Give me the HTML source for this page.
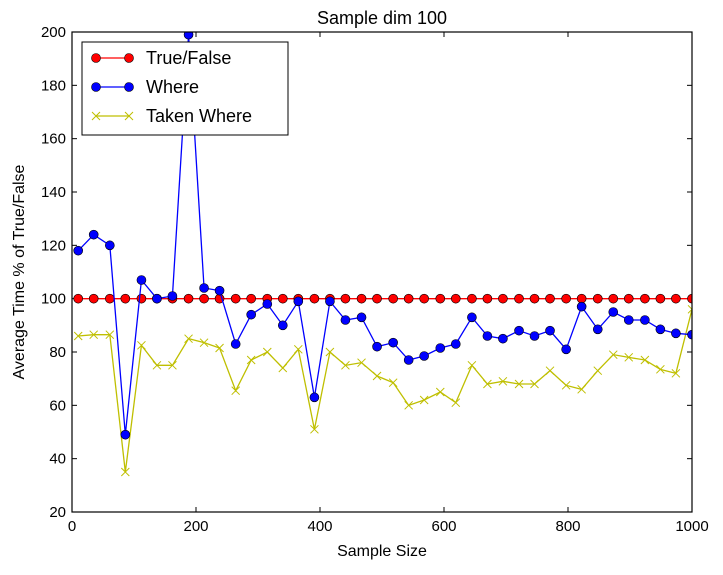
<!DOCTYPE html>
<html><head><meta charset="utf-8"><style>
body{margin:0;background:#fff;font-family:"Liberation Sans",sans-serif}
text{font-family:"Liberation Sans",sans-serif}
</style></head><body>
<svg id="chart" width="723" height="570" xmlns="http://www.w3.org/2000/svg"></svg>
<script>
const xValues=[10,35,61,86,112,137,162,188,213,238,264,289,315,340,365,391,416,441,467,492,518,543,568,594,619,645,670,695,721,746,771,797,822,848,873,898,924,949,974,1000];
const trueFalse=new Array(40).fill(100);
const whereVals=[118,124,120,49,107,100,101,199,104,103,83,94,98,90,99,63,99,92,93,82,83.5,77,78.5,81.5,83,93,86,85,88,86,88,81,97,88.5,95,92,92,88.5,87,86.5];
const takenWhere=[86,86.5,86.5,35,82.5,75,75,85,83.5,81.5,65.5,77,80,74,81,51,80,75,76,71,68.5,60,62,65,61,75,68,69,68,68,73,67.5,66,73,79,78,77,73.5,72,96];
const xTicks=[0,200,400,600,800,1000];
const yTicks=[20,40,60,80,100,120,140,160,180,200];
const L=72,R=692,T=32,B=512;
const sx=v=>L+(v-0)/1000*(R-L);
const sy=v=>B-(v-20)/180*(B-T);
const svg=document.getElementById('chart');
const NS='http://www.w3.org/2000/svg';
function mk(tag,attrs,parent){const e=document.createElementNS(NS,tag);for(const k in attrs)e.setAttribute(k,attrs[k]);(parent||svg).appendChild(e);return e;}
const clip=mk('clipPath',{id:'pc'});mk('rect',{x:L,y:T,width:R-L,height:B-T},clip);
// ticks
xTicks.forEach(v=>{
 const g=mk('g',{});
 
 
 mk('line',{x1:sx(v),x2:sx(v),y1:B,y2:B-5,stroke:'#000'},g);
 mk('line',{x1:sx(v),x2:sx(v),y1:T,y2:T+5,stroke:'#000'},g);
 const t=mk('text',{x:sx(v),y:B+19,'text-anchor':'middle','font-size':'15'},g);t.textContent=v;
});
yTicks.forEach(v=>{
 const g=mk('g',{});
 
 
 mk('line',{x1:L,x2:L+5,y1:sy(v),y2:sy(v),stroke:'#000'},g);
 mk('line',{x1:R,x2:R-5,y1:sy(v),y2:sy(v),stroke:'#000'},g);
 const t=mk('text',{x:L-6,y:sy(v)+5,'text-anchor':'end','font-size':'15'},g);t.textContent=v;
});
function series(vals,color,marker,name){
 const g=mk('g',{'clip-path':'url(#pc)'});
 
 
 mk('polyline',{points:vals.map((v,i)=>sx(xValues[i])+','+sy(v)).join(' '),fill:'none',stroke:color,'stroke-width':1.3},g);
 vals.forEach((v,i)=>{
  const x=sx(xValues[i]),y=sy(v);
  if(marker==='o'){const c=mk('circle',{cx:x,cy:y,r:4.5,fill:color,stroke:'#000','stroke-width':0.6},g);}
  else{const p=mk('path',{d:`M${x-4},${y-4}L${x+4},${y+4}M${x-4},${y+4}L${x+4},${y-4}`,stroke:color,'stroke-width':1},g);}
 });
}
series(takenWhere,'#bfbf00','x','taken-where-series');
series(trueFalse,'#ff0000','o','true-false-series');
series(whereVals,'#0000ff','o','where-series');
mk('rect',{x:L,y:T,width:R-L,height:B-T,fill:'none',stroke:'#000','stroke-width':1.2});
// titles
let t=mk('text',{x:382,y:24,'text-anchor':'middle','font-size':'18'});t.textContent='Sample dim 100';

t=mk('text',{x:382,y:556,'text-anchor':'middle','font-size':'16'});t.textContent='Sample Size';

t=mk('text',{x:24,y:272,'text-anchor':'middle','font-size':'16',transform:'rotate(-90 24 272)'});t.textContent='Average Time % of True/False';

// legend
const lg=mk('g',{});

mk('rect',{x:82,y:42,width:206,height:93,fill:'#fff',stroke:'#000','stroke-width':1},lg);
const items=[['True/False','#ff0000','o'],['Where','#0000ff','o'],['Taken Where','#bfbf00','x']];
items.forEach((it,i)=>{
 const y=58+i*29;
 const e=mk('g',{},lg);
 
 mk('line',{x1:96,x2:129,y1:y,y2:y,stroke:it[1],'stroke-width':1.3},e);
 [96,129].forEach(x=>{
  if(it[2]==='o')mk('circle',{cx:x,cy:y,r:4.5,fill:it[1],stroke:'#000','stroke-width':0.6},e);
  else mk('path',{d:`M${x-4},${y-4}L${x+4},${y+4}M${x-4},${y+4}L${x+4},${y-4}`,stroke:it[1]},e);
 });
 const tx=mk('text',{x:146,y:y+6,'font-size':'18'},e);tx.textContent=it[0];
});
</script>
</body></html>
